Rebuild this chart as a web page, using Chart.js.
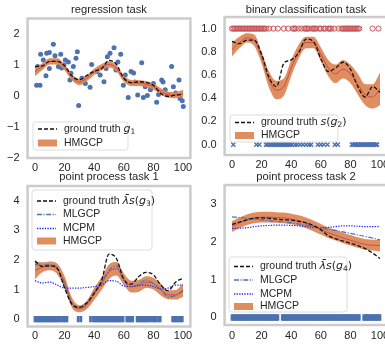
<!DOCTYPE html>
<html>
<head>
<meta charset="utf-8">
<script src="https://cdn.jsdelivr.net/npm/chart.js@4/dist/chart.umd.min.js"></script>
<style>
  html, body { margin: 0; padding: 0; background: #fff; }
  #fig { position: relative; width: 385px; height: 345px; overflow: hidden; }
  #fig canvas { position: absolute; left: 0; top: 0; }
</style>
</head>
<body>
<div id="fig">
  <canvas id="c1" width="400" height="345"></canvas>
  <canvas id="c2" width="400" height="345"></canvas>
  <canvas id="c3" width="400" height="345"></canvas>
  <canvas id="c4" width="400" height="345"></canvas>
</div>
<script>
// ---- data ----
const xs = [0, 5, 10, 15, 20, 25, 30, 35, 40, 45, 50, 55, 60, 65, 70, 75, 80, 85, 90, 95, 100];
const xTicks = [0, 20, 40, 60, 80, 100];

// regression task
const regX = [1.1, 3.4, 1.8, 3.8, 5.6, 7.9, 9.7, 7.4, 9.7, 12.4, 13.5, 15.8, 17.4, 18, 19.5, 20.5, 22.5, 23.6, 24.3, 25.9, 27.7, 28.6, 29.5, 31.7, 34, 37.2, 38.3, 41.7, 44, 46.6, 48, 48.9, 50.7, 53.4, 54.7, 56, 57.9, 59.7, 61, 63, 64.9, 66.6, 67.5, 69.4, 72.1, 73.2, 74.5, 75.9, 78, 80, 82.2, 83.5, 85.6, 86.5, 88, 89.5, 92.3, 93.5, 95, 97.3, 98, 99.5, 100.2];
const regY = [0.35, 0.35, 0.95, 1.35, 1.16, 1.38, 1.4, 0.65, 0.89, 1.67, 1.3, 0.95, 1.35, 0.9, 1.0, 1.16, 1.1, 0.52, 0.73, 0.95, 1.22, 1.43, -0.31, 0.57, 0.4, 0.28, 1.02, 0.79, 0.68, 0.46, 0.89, 1.27, 1.38, 1.56, 0.84, 1.1, 1.35, 0.35, 0.68, -0.05, 0.79, 0.74, 0.45, 0.03, 1.07, -0.05, 0.3, 0.02, 0.2, 0.4, -0.2, 0.05, 0.52, 0.45, 0.2, 0.05, 0.95, 0.3, 0.1, 0.52, -0.08, -0.15, -0.34];
const regTruth = [0.95, 0.97, 1.12, 1.12, 0.98, 0.65, 0.52, 0.66, 0.8, 0.88, 1.15, 1.02, 0.58, 0.43, 0.46, 0.44, 0.35, 0.08, -0.01, 0.03, 0.05];
const regMean = [0.78, 0.95, 1.12, 1.12, 0.92, 0.6, 0.45, 0.58, 0.78, 0.93, 1.02, 0.9, 0.56, 0.42, 0.42, 0.38, 0.3, 0.15, 0.04, 0.03, 0.08];
const regHi = [0.92, 1.06, 1.22, 1.22, 1.02, 0.7, 0.55, 0.68, 0.88, 1.03, 1.12, 1.0, 0.66, 0.52, 0.52, 0.48, 0.4, 0.25, 0.14, 0.13, 0.2];
const regLo = [0.64, 0.84, 1.02, 1.02, 0.82, 0.5, 0.35, 0.48, 0.68, 0.83, 0.92, 0.8, 0.46, 0.32, 0.32, 0.28, 0.2, 0.05, -0.06, -0.07, -0.04];
const regTicksY = [-2, -1, 0, 1, 2];

// binary classification task
const cls1X = [0, 1, 2, 3, 4, 5, 6, 7, 8, 9, 10, 11, 12, 13, 14, 15, 16, 17, 18, 19, 20, 21, 22, 23, 25, 28, 31, 35, 38, 41, 42, 43, 45, 47, 49, 50, 51, 52, 54, 55, 56, 57, 59, 60, 62, 63, 65, 66, 67, 69, 72, 74, 75, 76, 77, 78, 79, 80, 81, 82, 83, 84, 85, 86, 95, 99];
const cls0X = [0.9, 16.5, 18.5, 23, 24, 25.5, 26.5, 27.5, 28.5, 29.5, 30.5, 31.5, 32.5, 33.5, 34.5, 35.5, 36.5, 37.5, 38.5, 39.5, 40.5, 42.5, 44, 46, 48, 50, 52, 53.5, 58, 60, 62, 64.5, 69.5, 71.5, 81, 82, 83, 84, 85, 86, 87, 88, 89, 90, 91, 92, 93, 94, 95, 96, 97, 98];
const binTruth = [0.89, 0.87, 0.9, 0.9, 0.78, 0.58, 0.5, 0.7, 0.73, 0.79, 0.91, 0.89, 0.74, 0.63, 0.66, 0.71, 0.65, 0.5, 0.41, 0.5, 0.45];
const binMean = [0.82, 0.88, 0.92, 0.9, 0.75, 0.56, 0.47, 0.5, 0.66, 0.8, 0.88, 0.88, 0.78, 0.66, 0.61, 0.65, 0.61, 0.52, 0.43, 0.41, 0.48];
const binHi = [0.88, 0.93, 0.96, 0.95, 0.8, 0.63, 0.55, 0.57, 0.73, 0.86, 0.93, 0.93, 0.84, 0.73, 0.69, 0.73, 0.69, 0.61, 0.52, 0.52, 0.62];
const binLo = [0.76, 0.83, 0.88, 0.85, 0.7, 0.49, 0.39, 0.42, 0.59, 0.74, 0.83, 0.83, 0.72, 0.59, 0.53, 0.57, 0.53, 0.43, 0.34, 0.31, 0.34];
const binTicksY = [0, 0.2, 0.4, 0.6, 0.8, 1.0];

// point process task 1
const pp1Events = [0, 1, 2, 3, 4, 5, 6, 7, 8, 9, 10, 11, 12, 13, 14, 15, 16, 17, 18.6, 19.6, 20.6, 21.6, 29.2, 31, 37.5, 39.5, 40.5, 41.5, 42.5, 43.5, 44.5, 45.5, 46.5, 47.5, 48.5, 49.5, 50.5, 51.5, 52.5, 53.5, 54.5, 55.5, 56.5, 57.5, 58.5, 59.5, 62, 63, 64, 65, 66, 69, 70, 71, 72, 73, 74, 75, 76, 77, 78.5, 80, 81, 82, 83.6, 84.6, 93, 94, 95, 96, 97.5, 98.5, 99.5];
const pp1Truth = [1.96, 1.78, 1.8, 1.72, 1.05, 0.5, 0.4, 0.55, 0.88, 1.3, 2.2, 2.05, 1.35, 1.18, 1.43, 1.58, 1.5, 1.15, 0.96, 1.25, 1.38];
const pp1Mean = [1.65, 1.75, 1.8, 1.7, 1.25, 0.55, 0.35, 0.48, 0.85, 1.2, 1.6, 1.7, 1.35, 1.1, 1.12, 1.25, 1.2, 1.0, 0.82, 0.82, 0.98];
const pp1Hi = [1.95, 1.92, 1.95, 1.88, 1.45, 0.72, 0.47, 0.62, 1.05, 1.42, 1.85, 1.93, 1.55, 1.3, 1.32, 1.45, 1.4, 1.2, 0.97, 0.98, 1.2];
const pp1Lo = [1.35, 1.58, 1.65, 1.52, 1.05, 0.38, 0.23, 0.34, 0.65, 0.98, 1.35, 1.47, 1.15, 0.9, 0.92, 1.05, 1.0, 0.8, 0.67, 0.66, 0.76];
const pp1Mlgcp = [1.85, 1.82, 1.85, 1.72, 1.15, 0.5, 0.38, 0.5, 0.9, 1.25, 1.65, 1.8, 1.3, 1.1, 1.2, 1.32, 1.2, 1.0, 0.75, 0.8, 0.95];
const pp1Mcpm = [1.3, 1.22, 1.25, 1.15, 1.05, 1.05, 1.05, 1.07, 1.1, 1.15, 1.3, 1.28, 1.12, 1.1, 1.15, 1.15, 1.1, 1.02, 1.05, 1.15, 1.15];
const pp1TicksY = [0, 1, 2, 3, 4];

// point process task 2
const pp2Events = [0, 1, 2, 3, 4, 5, 6, 7, 8, 9, 10, 11, 12, 13, 14, 15, 16, 17, 18, 19, 20, 21, 22, 23, 24, 25, 26, 27, 28, 29, 30, 31, 34, 35, 36, 37, 38, 39, 40, 41, 42, 43, 44, 45, 46, 47, 48, 49, 50, 51, 52, 53, 54, 55, 56, 57, 58, 59, 60, 61, 62, 63, 64, 65, 66, 67, 68, 69, 70, 71, 72, 73, 74, 75, 76, 77, 78, 79, 80, 81, 82, 83, 84, 85, 86, 89, 90, 91, 92, 93, 94, 95, 96, 97, 98, 99, 100];
const pp2Truth = [2.46, 2.52, 2.58, 2.62, 2.63, 2.62, 2.6, 2.58, 2.57, 2.54, 2.5, 2.43, 2.32, 2.16, 2.08, 2.02, 1.96, 1.9, 1.82, 1.7, 1.56];
const pp2Mean = [2.4, 2.5, 2.58, 2.63, 2.65, 2.65, 2.64, 2.63, 2.6, 2.56, 2.5, 2.42, 2.33, 2.24, 2.17, 2.1, 2.04, 1.98, 1.93, 1.91, 1.9];
const pp2Hi = [2.54, 2.64, 2.72, 2.77, 2.79, 2.79, 2.78, 2.77, 2.74, 2.7, 2.64, 2.56, 2.47, 2.38, 2.31, 2.24, 2.18, 2.12, 2.07, 2.05, 2.06];
const pp2Lo = [2.26, 2.36, 2.44, 2.49, 2.51, 2.51, 2.5, 2.49, 2.46, 2.42, 2.36, 2.28, 2.19, 2.1, 2.03, 1.96, 1.9, 1.84, 1.79, 1.77, 1.74];
const pp2Mlgcp = [2.66, 2.64, 2.62, 2.6, 2.58, 2.56, 2.54, 2.52, 2.5, 2.47, 2.44, 2.4, 2.36, 2.33, 2.3, 2.26, 2.22, 2.18, 2.14, 2.1, 2.05];
const pp2Mcpm = [2.35, 2.36, 2.37, 2.4, 2.42, 2.43, 2.44, 2.44, 2.43, 2.42, 2.4, 2.38, 2.37, 2.38, 2.4, 2.42, 2.42, 2.41, 2.4, 2.4, 2.4];
const pp2TicksY = [0, 1, 2, 3];

// ---- styles ----
const BLUE = '#4c72b0', ORANGE = 'rgba(221,132,82,0.92)', RED = '#c44e52', TXT = '#262626';
const FONT = '"Liberation Sans", Arial, sans-serif';
const MATH = '"DejaVu Sans", sans-serif';

const pts = (xArr, yArr) => xArr.map((x, i) => ({ x: x, y: yArr[i] }));
const flat = (xArr, y) => xArr.map(x => ({ x: x, y: y }));

const curve = (data, color, width, dash) => ({
  data: data, borderColor: color, borderWidth: width, borderDash: dash || [],
  pointRadius: 0, cubicInterpolationMode: 'monotone', fill: false
});
const bandHi = data => ({ data: data, borderWidth: 0, pointRadius: 0, backgroundColor: ORANGE, fill: '+1', cubicInterpolationMode: 'monotone' });
const bandLo = data => ({ data: data, borderWidth: 0, pointRadius: 0, fill: false, cubicInterpolationMode: 'monotone' });
const rug = events => ({
  data: flat(events, 0), showLine: false, pointStyle: 'line', rotation: 90,
  pointRadius: 3.2, borderWidth: 2.8, borderColor: BLUE
});

// frame, title and in-axes legend
const panelDeco = {
  id: 'panelDeco',
  afterDraw(chart, args, o) {
    const ctx = chart.ctx, a = chart.chartArea;
    ctx.save();
    ctx.strokeStyle = '#cccccc';
    ctx.lineWidth = 2.5;
    ctx.strokeRect(a.left, a.top, a.right - a.left, a.bottom - a.top);

    ctx.fillStyle = TXT;
    ctx.font = '11.2px ' + FONT;
    ctx.textAlign = 'center';
    ctx.textBaseline = 'middle';
    ctx.fillText(o.title, (a.left + a.right) / 2, o.titleY);

    const L = o.legend;
    ctx.beginPath();
    ctx.roundRect(L.x, L.y, L.w, L.h, 3);
    ctx.fillStyle = 'rgba(255,255,255,0.85)';
    ctx.fill();
    ctx.strokeStyle = '#dddddd';
    ctx.lineWidth = 1;
    ctx.stroke();

    L.rows.forEach(r => {
      const sx = L.x + 5, ex = L.x + 24;
      if (r.kind === 'rect') {
        ctx.fillStyle = ORANGE;
        ctx.fillRect(sx, r.y - 3.5, ex - sx, 7);
      } else {
        ctx.beginPath();
        ctx.setLineDash(r.dash);
        ctx.strokeStyle = r.color;
        ctx.lineWidth = 1.3;
        ctx.moveTo(sx, r.y);
        ctx.lineTo(ex, r.y);
        ctx.stroke();
        ctx.setLineDash([]);
      }
      let tx = L.x + 31;
      ctx.textAlign = 'left';
      ctx.textBaseline = 'middle';
      ctx.fillStyle = TXT;
      r.parts.forEach(p => {
        if (p.sub) {
          ctx.font = '7.5px ' + MATH;
          ctx.fillText(p.t, tx, r.y + 3);
        } else if (p.it) {
          ctx.font = 'italic 11px ' + MATH;
          ctx.fillText(p.t, tx, r.y);
        } else if (p.m) {
          ctx.font = '11px ' + MATH;
          ctx.fillText(p.t, tx, r.y);
        } else {
          ctx.font = '10.5px ' + FONT;
          ctx.fillText(p.t, tx, r.y);
        }
        tx += ctx.measureText(p.t).width;
      });
    });
    ctx.restore();
  }
};

const fmtMinus = v => (v < 0 ? '\u2212' + Math.abs(v) : String(v));

function makeChart(id, box, yRange, yTicks, yFmt, xPad, datasets, deco) {
  const W = 400, H = 345, yW = 24, xH = 16;
  return new Chart(document.getElementById(id), {
    type: 'line',
    data: { datasets: datasets },
    options: {
      responsive: false,
      animation: false,
      events: [],
      layout: {
        padding: { left: box.l - yW, right: W - box.r, top: box.t, bottom: H - box.b - xH }
      },
      scales: {
        x: {
          type: 'linear', min: -5, max: 105,
          grid: { display: false, drawTicks: false },
          border: { display: false },
          afterBuildTicks: s => { s.ticks = xTicks.map(v => ({ value: v })); },
          afterFit: s => { s.height = xH; },
          ticks: { padding: xPad, maxRotation: 0, color: TXT, font: { family: FONT, size: 11 } }
        },
        y: {
          type: 'linear', min: yRange[0], max: yRange[1],
          grid: { display: false, drawTicks: false },
          border: { display: false },
          afterBuildTicks: s => { s.ticks = yTicks.map(v => ({ value: v })); },
          afterFit: s => { s.width = yW; },
          ticks: { padding: 8, color: TXT, font: { family: FONT, size: 11 }, callback: yFmt }
        }
      },
      plugins: {
        legend: { display: false },
        tooltip: { enabled: false },
        panelDeco: deco
      }
    },
    plugins: [panelDeco]
  });
}

const gtDash = [4, 2];
const mlDash = [5, 1.5, 1.2, 1.5];
const mcDash = [1.3, 1.3];

makeChart('c1', { l: 27.6, r: 190.4, t: 18.5, b: 158 }, [-2, 2.5], regTicksY, fmtMinus, 3, [
  curve(pts(xs, regTruth), '#111111', 1.3, gtDash),
  curve(pts(xs, regMean), RED, 1),
  bandHi(pts(xs, regHi)),
  bandLo(pts(xs, regLo)),
  { data: pts(regX, regY), showLine: false, pointRadius: 2.5, backgroundColor: BLUE, borderWidth: 0 }
], {
  title: 'regression task', titleY: 9.5,
  legend: { x: 33, y: 122, w: 95, h: 28, rows: [
    { kind: 'line', color: '#111111', dash: gtDash, y: 129, parts: [{ t: 'ground truth ' }, { t: 'g', it: true }, { t: '1', sub: true }] },
    { kind: 'rect', y: 143, parts: [{ t: 'HMGCP' }] }
  ] }
});

makeChart('c2', { l: 224.6, r: 387.4, t: 17, b: 155 }, [-0.09, 1.1], binTicksY, v => v.toFixed(1), 3, [
  curve(pts(xs, binTruth), '#111111', 1.3, gtDash),
  curve(pts(xs, binMean), RED, 1),
  bandHi(pts(xs, binHi)),
  bandLo(pts(xs, binLo)),
  { data: flat(cls1X, 1), showLine: false, pointRadius: 2.6, borderWidth: 1, borderColor: 'rgba(196,78,82,0.9)', backgroundColor: 'rgba(196,78,82,0.08)' },
  { data: flat(cls0X, 0), showLine: false, pointStyle: 'crossRot', pointRadius: 3, borderWidth: 1.3, borderColor: BLUE }
], {
  title: 'binary classification task', titleY: 9.5,
  legend: { x: 230, y: 115, w: 108, h: 27, rows: [
    { kind: 'line', color: '#111111', dash: gtDash, y: 122.5, parts: [{ t: 'ground truth ' }, { t: 's', it: true }, { t: '(', m: true }, { t: 'g', it: true }, { t: '2', sub: true }, { t: ')', m: true }] },
    { kind: 'rect', y: 135.5, parts: [{ t: 'HMGCP' }] }
  ] }
});

makeChart('c3', { l: 27.6, r: 190.4, t: 186, b: 326.5 }, [-0.25, 4.5], pp1TicksY, fmtMinus, 3, [
  curve(pts(xs, pp1Truth), '#111111', 1.3, gtDash),
  curve(pts(xs, pp1Mlgcp), BLUE, 1.2, mlDash),
  curve(pts(xs, pp1Mcpm), '#1f1fff', 1.2, mcDash),
  curve(pts(xs, pp1Mean), RED, 1),
  bandHi(pts(xs, pp1Hi)),
  bandLo(pts(xs, pp1Lo)),
  rug(pp1Events)
], {
  title: 'point process task 1', titleY: 177,
  legend: { x: 32, y: 190, w: 120, h: 60, rows: [
    { kind: 'line', color: '#111111', dash: gtDash, y: 201, parts: [{ t: 'ground truth ' }, { t: '\u03bb\u0304', it: true }, { t: 's', it: true }, { t: '(', m: true }, { t: 'g', it: true }, { t: '3', sub: true }, { t: ')', m: true }] },
    { kind: 'line', color: BLUE, dash: mlDash, y: 214.5, parts: [{ t: 'MLGCP' }] },
    { kind: 'line', color: '#1f1fff', dash: mcDash, y: 228.5, parts: [{ t: 'MCPM' }] },
    { kind: 'rect', y: 241, parts: [{ t: 'HMGCP' }] }
  ] }
});

makeChart('c4', { l: 224.6, r: 387.4, t: 185, b: 325 }, [-0.2, 3.5], pp2TicksY, fmtMinus, 4, [
  curve(pts(xs, pp2Truth), '#111111', 1.3, gtDash),
  curve(pts(xs, pp2Mlgcp), BLUE, 1.2, mlDash),
  curve(pts(xs, pp2Mcpm), '#1f1fff', 1.2, mcDash),
  curve(pts(xs, pp2Mean), RED, 1),
  bandHi(pts(xs, pp2Hi)),
  bandLo(pts(xs, pp2Lo)),
  rug(pp2Events)
], {
  title: 'point process task 2', titleY: 177,
  legend: { x: 229, y: 257, w: 118, h: 55, rows: [
    { kind: 'line', color: '#111111', dash: gtDash, y: 266.5, parts: [{ t: 'ground truth ' }, { t: '\u03bb\u0304', it: true }, { t: 's', it: true }, { t: '(', m: true }, { t: 'g', it: true }, { t: '4', sub: true }, { t: ')', m: true }] },
    { kind: 'line', color: BLUE, dash: mlDash, y: 280, parts: [{ t: 'MLGCP' }] },
    { kind: 'line', color: '#1f1fff', dash: mcDash, y: 294, parts: [{ t: 'MCPM' }] },
    { kind: 'rect', y: 306.5, parts: [{ t: 'HMGCP' }] }
  ] }
});
</script>
</body>
</html>
